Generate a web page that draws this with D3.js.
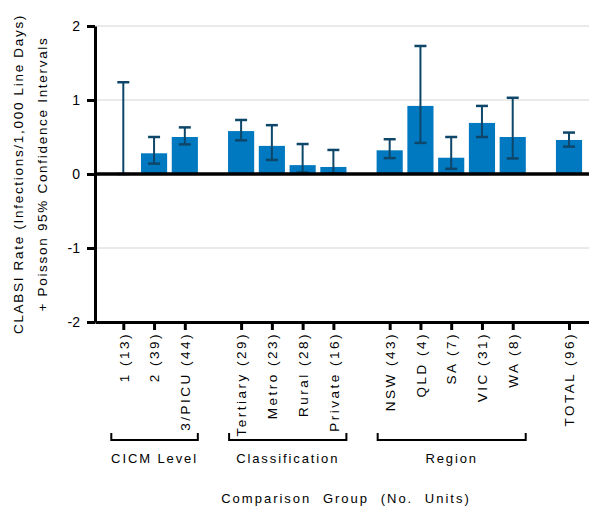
<!DOCTYPE html>
<html>
<head>
<meta charset="utf-8">
<script src="https://cdn.jsdelivr.net/npm/d3@7/dist/d3.min.js"></script>
<style>
	body { margin: 0; background: #fff; }
	svg { display: block; font-family: "Liberation Sans", Arial, sans-serif; }
</style>
</head>
<body>
<svg id="chart" width="589" height="506"></svg>
<script>
// Data
var labels = ["1 (13)", "2 (39)", "3/PICU (44)", "Tertiary (29)", "Metro (23)", "Rural (28)",
	"Private (16)", "NSW (43)", "QLD (4)", "SA (7)", "VIC (31)", "WA (8)", "TOTAL (96)"];
var groupIndex = [0, 0, 0, 1, 1, 1, 1, 2, 2, 2, 2, 2, 3];
var rates = [0, 0.28, 0.50, 0.58, 0.38, 0.12, 0.095, 0.32, 0.92, 0.22, 0.69, 0.50, 0.46];
var lower = [0, 0.14, 0.40, 0.455, 0.19, 0.02, 0.01, 0.215, 0.42, 0.07, 0.50, 0.21, 0.37];
var upper = [1.24, 0.50, 0.63, 0.73, 0.66, 0.405, 0.325, 0.47, 1.73, 0.50, 0.92, 1.03, 0.56];
var groupNames = ["CICM Level", "Classification", "Region"];
var yTicks = [-2, -1, 0, 1, 2];

var svg = d3.select("#chart"),
	barColor = "#0079c1",
	errColor = "#0d4669",
	groupGap = 0.83;

// slot position of each bar (bars are 1 apart, extra gap between groups)
function slot(i) {
	return i + groupIndex[i] * groupGap;
}

var x = d3.scaleLinear().domain([-0.92, 15.14]).range([95, 589]),
	y = d3.scaleLinear().domain([-2, 2]).range([322, 26]),
	unit = x(1) - x(0),
	barW = unit * 0.85;

// Gridlines
svg.append("g")
	.selectAll("line")
	.data(yTicks.filter(function (d) { return d != 0 && d != -2; }))
	.join("line")
	.attr("x1", x(-0.92))
	.attr("x2", 589)
	.attr("y1", function (d) { return y(d); })
	.attr("y2", function (d) { return y(d); })
	.attr("stroke", "#d4d4d4")
	.attr("stroke-width", 1);

// Bars
var idx = d3.range(labels.length);

svg.append("g")
	.selectAll("rect")
	.data(idx.filter(function (i) { return rates[i] > 0; }))
	.join("rect")
	.attr("x", function (i) { return x(slot(i)) - barW / 2; })
	.attr("y", function (i) { return y(rates[i]); })
	.attr("width", barW)
	.attr("height", function (i) { return y(0) - y(rates[i]); })
	.attr("fill", barColor);

// Error bars
var errG = svg.append("g")
	.attr("stroke", errColor);

errG.selectAll("line.stem")
	.data(idx)
	.join("line")
	.attr("class", "stem")
	.attr("x1", function (i) { return x(slot(i)); })
	.attr("x2", function (i) { return x(slot(i)); })
	.attr("y1", function (i) { return y(lower[i]); })
	.attr("y2", function (i) { return y(upper[i]); })
	.attr("stroke-width", 2);

errG.selectAll("line.cap")
	.data(idx.flatMap(function (i) { return [[i, upper[i]], [i, lower[i]]]; }))
	.join("line")
	.attr("class", "cap")
	.attr("x1", function (d) { return x(slot(d[0])) - 6; })
	.attr("x2", function (d) { return x(slot(d[0])) + 6; })
	.attr("y1", function (d) { return y(d[1]); })
	.attr("y2", function (d) { return y(d[1]); })
	.attr("stroke-width", 2.5);

// Zero line
svg.append("line")
	.attr("x1", x(-0.92))
	.attr("x2", 589)
	.attr("y1", y(0))
	.attr("y2", y(0))
	.attr("stroke", "#000")
	.attr("stroke-width", 3.5);

// Y axis
var yAxis = svg.append("g")
	.attr("transform", "translate(" + x(-0.92) + ",0)")
	.call(d3.axisLeft(y).tickValues(yTicks).tickSize(8).tickSizeOuter(0).tickPadding(7)
		.tickFormat(function (d) { return String(d); }));

yAxis.select(".domain").attr("stroke-width", 3);
yAxis.selectAll(".tick line").attr("stroke-width", 3);
yAxis.selectAll(".tick text")
	.attr("font-size", 14)
	.attr("font-family", "Liberation Sans, Arial, sans-serif")
	.attr("fill", "#000");

// X axis
var xAxis = svg.append("g")
	.attr("transform", "translate(0," + y(-2) + ")")
	.call(d3.axisBottom(x).tickValues(idx.map(slot)).tickSize(8).tickSizeOuter(0)
		.tickFormat(function (d, k) { return labels[k]; }));

xAxis.select(".domain").attr("stroke-width", 3);
xAxis.selectAll(".tick line").attr("stroke-width", 3);
xAxis.selectAll(".tick text")
	.attr("font-size", 13.5)
	.attr("font-family", "Liberation Sans, Arial, sans-serif")
	.attr("letter-spacing", 2.5)
	.attr("fill", "#000")
	.attr("text-anchor", "end")
	.attr("dy", "0.35em")
	.attr("transform", "translate(0,10) rotate(-90)")
	.attr("x", 0)
	.attr("y", 0);

// Group brackets
var bracketY = 440;
var groupsG = svg.append("g");

groupNames.forEach(function (name, g) {
	var members = idx.filter(function (i) { return groupIndex[i] == g; }),
		x0 = x(slot(members[0])) - 12,
		x1 = x(slot(members[members.length - 1])) + 13;

	groupsG.append("path")
		.attr("d", "M" + x0 + "," + (bracketY - 7) + "V" + bracketY + "H" + x1 + "V" + (bracketY - 7))
		.attr("fill", "none")
		.attr("stroke", "#000")
		.attr("stroke-width", 2);

	groupsG.append("text")
		.attr("x", (x0 + x1) / 2)
		.attr("y", bracketY + 23)
		.attr("text-anchor", "middle")
		.attr("font-size", 13)
		.attr("letter-spacing", 1.9)
		.text(name);
});

// Axis titles
svg.append("text")
	.attr("x", 346)
	.attr("y", 503)
	.attr("text-anchor", "middle")
	.attr("font-size", 13)
	.attr("letter-spacing", 2)
	.attr("word-spacing", 6)
	.text("Comparison Group (No. Units)");

var yTitle = svg.append("text")
	.attr("transform", "translate(0," + y(0) + ") rotate(-90)")
	.attr("text-anchor", "middle")
	.attr("font-size", 13.5)
	.attr("letter-spacing", 1.7);

yTitle.append("tspan")
	.attr("x", 0)
	.attr("y", 23)
	.text("CLABSI Rate (Infections/1,000 Line Days)");

yTitle.append("tspan")
	.attr("x", 0)
	.attr("y", 47)
	.text("+ Poisson 95% Confidence Intervals");
</script>
</body>
</html>
